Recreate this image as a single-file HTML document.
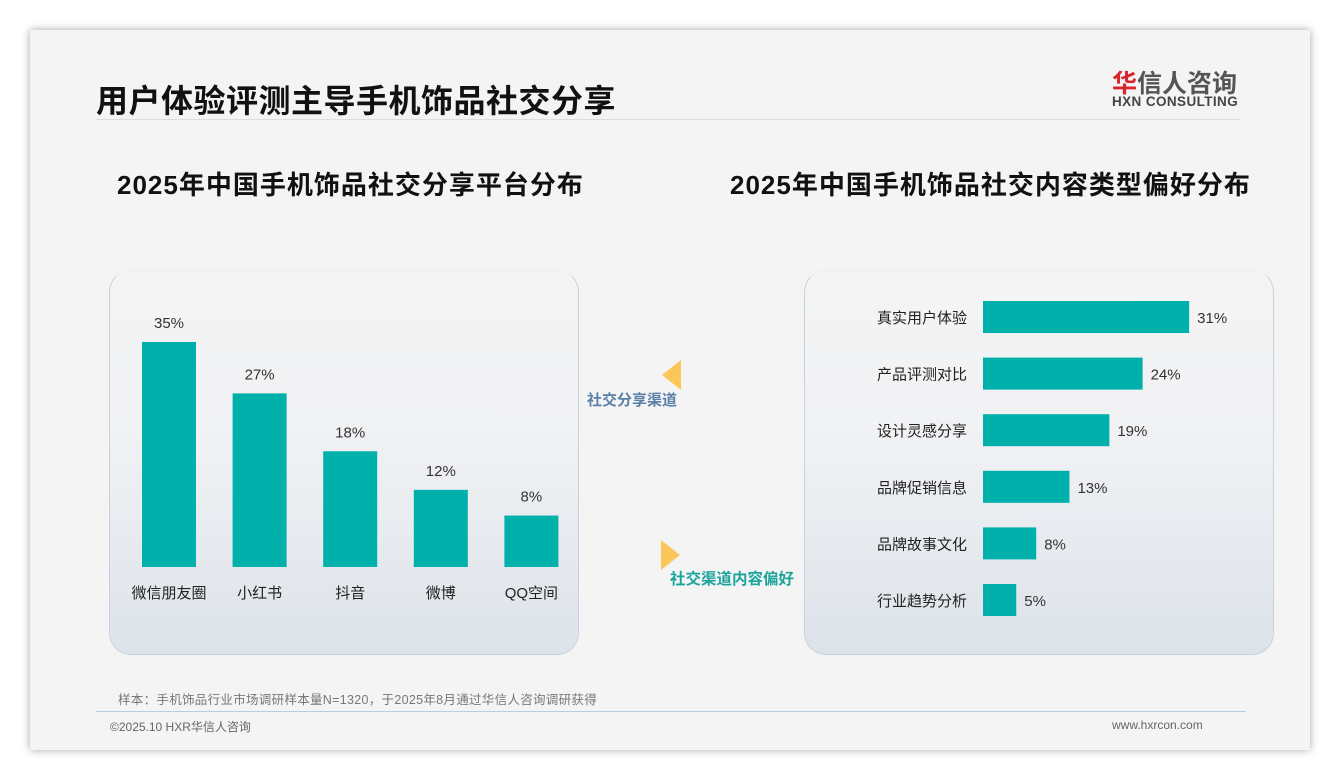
<!DOCTYPE html>
<html><head><meta charset="utf-8">
<style>
body{margin:0;width:1340px;height:780px;background:#fff;font-family:"Liberation Sans","Noto Sans CJK SC",sans-serif;position:relative;overflow:hidden}
.slide{position:absolute;left:30px;top:30px;width:1280px;height:720px;background:#f4f4f4;box-shadow:0 0 8px rgba(0,0,0,.35)}
.abs{position:absolute}
.panel{position:absolute;border-radius:22px;border:1px solid #c8d2de;border-top-color:#eceef0;background:linear-gradient(#f4f4f4 0%,#f1f2f4 40%,#dde3ea 100%)}
</style></head><body>
<div class="slide"></div>
<div class="abs" style="left:96px;top:76px;font-size:32px;font-weight:bold;color:#111;letter-spacing:0.5px">用户体验评测主导手机饰品社交分享</div>
<div class="abs" style="left:1112px;top:64px;font-size:25px;color:#555;font-weight:bold"><span style="color:#d8262e">华</span>信人咨询</div>
<div class="abs" style="left:1112px;top:94px;font-size:13.5px;color:#444;font-weight:bold;letter-spacing:.4px">HXN CONSULTING</div>
<div class="abs" style="left:96px;top:119px;width:1144px;height:1px;background:#ddd"></div>
<div class="abs" style="left:117px;top:165px;font-size:26px;font-weight:bold;color:#111;letter-spacing:1px">2025年中国手机饰品社交分享平台分布</div>
<div class="abs" style="left:730px;top:165px;font-size:26px;font-weight:bold;color:#111;letter-spacing:1px">2025年中国手机饰品社交内容类型偏好分布</div>
<div class="panel" style="left:109px;top:270px;width:468px;height:383px"></div>
<div class="panel" style="left:804px;top:270px;width:468px;height:383px"></div>
<svg class="abs" style="left:0;top:0" width="1340" height="780" id="chart">
<polygon points="681,360 681,390 662,375" fill="#fdc65a"/>
<polygon points="661,540 661,570 680,555" fill="#fdc65a"/>
<text x="587" y="405" font-size="15" font-weight="bold" fill="#5a7fa8">社交分享渠道</text>
<text x="670" y="584" font-size="15.5" font-weight="bold" fill="#1aa49b">社交渠道内容偏好</text>
</svg>
<div class="abs" style="left:118px;top:689px;font-size:12.5px;color:#777;letter-spacing:0.3px">样本：手机饰品行业市场调研样本量N=1320，于2025年8月通过华信人咨询调研获得</div>
<div class="abs" style="left:96px;top:711px;width:1150px;height:1px;background:#b9cde0"></div>
<div class="abs" style="left:110px;top:718px;font-size:12px;color:#666">©2025.10 HXR华信人咨询</div>
<div class="abs" style="left:1112px;top:718px;font-size:12px;color:#666">www.hxrcon.com</div>
<script>
const platforms=["微信朋友圈","小红书","抖音","微博","QQ空间"];
const platformValues=[35,27,18,12,8];
const contentTypes=["真实用户体验","产品评测对比","设计灵感分享","品牌促销信息","品牌故事文化","行业趋势分析"];
const contentValues=[31,24,19,13,8,5];
const svg=document.getElementById('chart');
const NS='http://www.w3.org/2000/svg';
function mk(tag,attrs,text){const e=document.createElementNS(NS,tag);for(const k in attrs)e.setAttribute(k,attrs[k]);if(text!==undefined)e.textContent=text;svg.appendChild(e);return e;}
const baseY=567,pxPerPctV=6.43;
const xPos=i=>169+i*90.6;
const yLen=v=>v*pxPerPctV;
platforms.forEach((p,i)=>{
  const h=yLen(platformValues[i]),cx=xPos(i);
  const r=mk('rect',{x:cx-27,y:baseY-h,width:54,height:h,fill:'#00b0aa'});
  
  
  const t=mk('text',{x:cx,y:baseY-h-14,'font-size':15,fill:'#333','text-anchor':'middle'},platformValues[i]+'%');
  
  
  const l=mk('text',{x:cx,y:598,'font-size':15,fill:'#222','text-anchor':'middle'},p);
  
  
});
const barX0=983,pxPerPctH=6.65;
const yCat=i=>317+i*56.6;
const xLen=v=>v*pxPerPctH;
contentTypes.forEach((c,i)=>{
  const w=xLen(contentValues[i]),cy=yCat(i);
  const r=mk('rect',{x:barX0,y:cy-16,width:w,height:32,fill:'#00b0aa'});
  
  
  const t=mk('text',{x:barX0+w+8,y:cy+6,'font-size':15,fill:'#333'},contentValues[i]+'%');
  
  
  const l=mk('text',{x:967,y:cy+6,'font-size':15,fill:'#222','text-anchor':'end'},c);
  
  
});
</script>
</body></html>
